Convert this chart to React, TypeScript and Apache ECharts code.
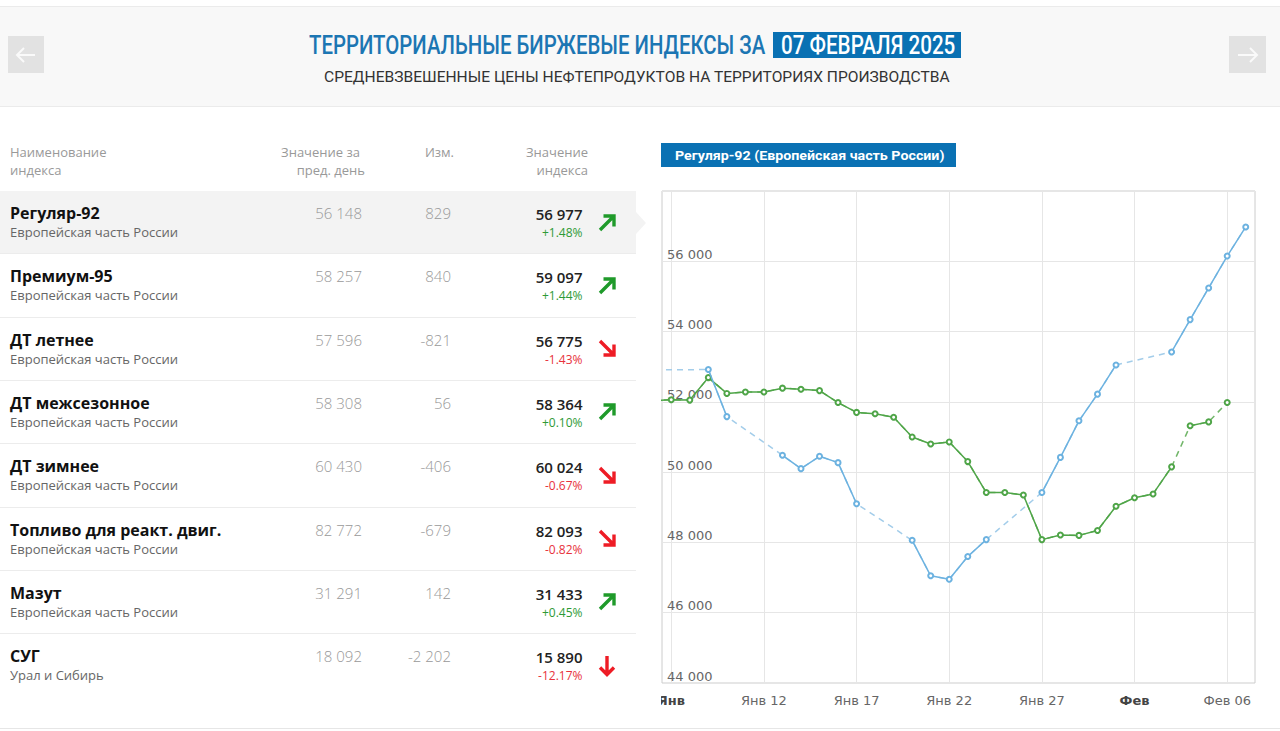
import React, { useEffect, useLayoutEffect, useRef, useState } from "react";
import * as echarts from "echarts";

// ---------- DATA ----------
const days = [
  "2025-01-06", "2025-01-07", "2025-01-08", "2025-01-09", "2025-01-10", "2025-01-11", "2025-01-12",
  "2025-01-13", "2025-01-14", "2025-01-15", "2025-01-16", "2025-01-17", "2025-01-18", "2025-01-19",
  "2025-01-20", "2025-01-21", "2025-01-22", "2025-01-23", "2025-01-24", "2025-01-25", "2025-01-26",
  "2025-01-27", "2025-01-28", "2025-01-29", "2025-01-30", "2025-01-31", "2025-02-01", "2025-02-02",
  "2025-02-03", "2025-02-04", "2025-02-05", "2025-02-06", "2025-02-07",
];

// Регуляр-92 index (blue); null = no trading day
const blueValues: (number | null)[] = [
  null, null, null, 52920, 51580, null, null,
  50480, 50100, 50450, 50270, 49100, null, null,
  48060, 47050, 46950, 47600, 48080, null, null,
  49420, 50420, 51460, 52220, 53050, null, null,
  53420, 54340, 55240, 56148, 56977,
];
// last trading day before the visible range
const bluePrevDay = "2024-12-30";
const bluePrevValue = 52880;

// comparison line (green)
const greenValues: (number | null)[] = [
  52040, 52060, 52050, 52690, 52240, 52280, 52280,
  52390, 52360, 52320, 51980, 51700, 51660, 51560,
  51000, 50800, 50860, 50300, 49420, 49420, 49350,
  48080, 48210, 48200, 48340, 49030, 49270, 49380,
  50150, 51320, 51430, 51980, null,
];
// green segments drawn dashed (from this day to the next)
const greenDashedFrom = ["2025-02-03", "2025-02-05"];

const xTickDays = ["2025-01-07", "2025-01-12", "2025-01-17", "2025-01-22", "2025-01-27", "2025-02-01", "2025-02-06"];
const xTickLabels = ["Янв", "Янв 12", "Янв 17", "Янв 22", "Янв 27", "Фев", "Фев 06"];
const xTickBold = [true, false, false, false, false, true, false];

// table
const names = ["Регуляр-92", "Премиум-95", "ДТ летнее", "ДТ межсезонное", "ДТ зимнее", "Топливо для реакт. двиг.", "Мазут", "СУГ"];
const regions = [
  "Европейская часть России", "Европейская часть России", "Европейская часть России", "Европейская часть России",
  "Европейская часть России", "Европейская часть России", "Европейская часть России", "Урал и Сибирь",
];
const prevValues = [56148, 58257, 57596, 58308, 60430, 82772, 31291, 18092];
const changes = [829, 840, -821, 56, -406, -679, 142, -2202];
const values = [56977, 59097, 56775, 58364, 60024, 82093, 31433, 15890];
const pcts = ["+1.48%", "+1.44%", "-1.43%", "+0.10%", "-0.67%", "-0.82%", "+0.45%", "-12.17%"];
const dirs = ["up", "up", "down", "up", "down", "down", "up", "drop"];

// ---------- HELPERS ----------
const W = 1280;
const DAY = 86400000;
const toT = (d: string) => Date.parse(d + "T00:00:00Z");
const fmtNum = (v: number) => {
  const s = String(Math.abs(v)).replace(/\B(?=(\d{3})+(?!\d))/g, " ");
  return (v < 0 ? "-" : "") + s;
};

const BLUE = "#6cb2e0";
const BLUE_DASH = "#a3cdea";
const GREEN = "#4fa548";
const GREEN_DASH = "#72b66a";

function Txt(props: any) {
  const { x, y, align = "left", size, color, weight = 400, family = "'Open Sans'", lh = 20, children } = props;
  const st: any = {
    position: "absolute",
    top: y - lh / 2,
    fontSize: size,
    lineHeight: lh + "px",
    color,
    fontWeight: weight,
    fontFamily: family,
    whiteSpace: "nowrap",
  };
  if (align === "right") st.right = W - x;
  else st.left = x;
  return <div style={st}>{children}</div>;
}

function Fit(props: any) {
  const { x, y, w, size, weight = 400, color, family = "Roboto", children } = props;
  const ref = useRef<HTMLDivElement>(null);
  const [k, setK] = useState(1);
  useLayoutEffect(() => {
    const m = () => {
      const el = ref.current;
      if (el && el.offsetWidth > 0) setK(w / el.offsetWidth);
    };
    m();
    (document as any).fonts?.ready?.then(m);
  }, [w]);
  return (
    <div
      ref={ref}
      style={{
        position: "absolute",
        left: x,
        top: y - size / 2,
        fontSize: size,
        lineHeight: size + "px",
        fontWeight: weight,
        color,
        fontFamily: family,
        whiteSpace: "nowrap",
        transform: `scaleX(${k})`,
        transformOrigin: "0 0",
      }}
    >
      {children}
    </div>
  );
}

function Arrow({ dir, x, y }: { dir: string; x: number; y: number }) {
  const green = "#1f9a2a";
  const red = "#ee1c25";
  if (dir === "drop") {
    return (
      <svg style={{ position: "absolute", left: x, top: y }} width={20} height={22} viewBox="0 0 20 22">
        <path d="M10 1 V19.5 M3 12.5 L10 19.5 L17 12.5" fill="none" stroke={red} strokeWidth={3.4} />
      </svg>
    );
  }
  const d = dir === "up" ? "M2 17 L16 3 M5.5 3 H16 V13.5" : "M2 2 L16 16 M16 5.5 V16 H5.5";
  return (
    <svg style={{ position: "absolute", left: x, top: y }} width={19} height={19} viewBox="0 0 19 19">
      <path d={d} fill="none" stroke={dir === "up" ? green : red} strokeWidth={3.4} />
    </svg>
  );
}

function Chart() {
  const ref = useRef<HTMLDivElement>(null);
  useEffect(() => {
    if (!ref.current) return;
    const chart = echarts.init(ref.current, undefined, { renderer: "svg" });

    const blueSolid = days.map((d, i) => [toT(d), blueValues[i] ?? "-"]);
    const blueDashed: any[] = [[toT(bluePrevDay), bluePrevValue]];
    days.forEach((d, i) => {
      if (blueValues[i] != null) blueDashed.push([toT(d), blueValues[i]]);
    });
    const greenSolid: any[] = [];
    const greenDashed: any[] = [];
    days.forEach((d, i) => {
      greenSolid.push([toT(d), greenValues[i] ?? "-"]);
      if (greenDashedFrom.includes(d)) greenSolid.push([toT(d) + DAY / 2, "-"]);
      if (greenValues[i] != null) greenDashed.push([toT(d), greenValues[i]]);
    });
    const xTicks = xTickDays.map(toT);

    chart.setOption({
      animation: false,
      backgroundColor: "#ffffff",
      grid: {
        left: 1, top: 6, right: 6, bottom: 32,
        show: true, borderColor: "#cccccc", borderWidth: 1,
        containLabel: false, outerBoundsMode: "none",
      },
      xAxis: {
        type: "value",
        min: toT(days[0]) + DAY / 2,
        max: toT(days[days.length - 1]) + DAY / 2,
        axisLine: { show: false },
        axisTick: { show: false, customValues: xTicks },
        splitLine: { show: true, lineStyle: { color: "#e6e6e6", width: 1 } },
        axisLabel: {
          customValues: xTicks,
          color: "#666666",
          fontSize: 13,
          fontFamily: "DejaVu Sans",
          lineHeight: 14,
          margin: 10,
          formatter: (v: number) => {
            const i = xTicks.indexOf(Math.round(v));
            if (i < 0) return "";
            return xTickBold[i] ? `{b|${xTickLabels[i]}}` : xTickLabels[i];
          },
          rich: { b: { fontWeight: "bold", color: "#444444", fontSize: 13, fontFamily: "DejaVu Sans", lineHeight: 14 } },
        },
      },
      yAxis: {
        type: "value",
        min: 44000,
        max: 58000,
        interval: 2000,
        axisLine: { show: false },
        axisTick: { show: false },
        splitLine: { show: true, lineStyle: { color: "#e6e6e6", width: 1 } },
        axisLabel: {
          inside: true,
          showMaxLabel: false,
          margin: 5,
          color: "#666666",
          fontSize: 13,
          fontFamily: "DejaVu Sans",
          lineHeight: 14,
          verticalAlign: "bottom",
          formatter: (v: number) => fmtNum(v),
        },
      },
      series: [
        {
          type: "line",
          data: greenDashed,
          symbol: "none",
          silent: true,
          z: 2,
          lineStyle: { color: GREEN_DASH, width: 1.5, type: [6, 5] },
        },
        {
          type: "line",
          data: blueDashed,
          symbol: "none",
          silent: true,
          z: 2,
          lineStyle: { color: BLUE_DASH, width: 1.5, type: [6, 5] },
        },
        {
          type: "line",
          data: greenSolid,
          connectNulls: false,
          symbol: "circle",
          symbolSize: 5,
          showAllSymbol: true,
          z: 3,
          itemStyle: { color: "#ffffff", borderColor: GREEN, borderWidth: 2 },
          lineStyle: { color: GREEN, width: 1.5 },
        },
        {
          type: "line",
          data: blueSolid,
          connectNulls: false,
          symbol: "circle",
          symbolSize: 5,
          showAllSymbol: true,
          z: 4,
          itemStyle: { color: "#ffffff", borderColor: BLUE, borderWidth: 2 },
          lineStyle: { color: BLUE, width: 1.5 },
        },
      ],
    });
    return () => chart.dispose();
  }, []);
  return <div ref={ref} style={{ position: "absolute", left: 661, top: 185, width: 600, height: 530 }} />;
}

export default function App() {
  useEffect(() => {
    document.body.style.margin = "0";
  }, []);
  const rowTop = (i: number) => 191 + i * 63.3;
  const grey = "#999999";
  return (
    <div style={{ position: "fixed", left: 0, top: 0, width: 1280, height: 731, background: "#fff", overflow: "hidden", fontFamily: "'Open Sans'" }}>
      {/* header band */}
      <div style={{ position: "absolute", left: 0, top: 6, width: 1280, height: 99, background: "#f8f8f8", borderTop: "1px solid #ebebeb", borderBottom: "1px solid #ebebeb" }} />
      <div style={{ position: "absolute", left: 8, top: 36, width: 36, height: 37, background: "#e2e2e2" }}>
        <svg width={36} height={37} viewBox="0 0 36 37">
          <path d="M27 19 H9 M16 12 L9 19 L16 26" fill="none" stroke="#fafafa" strokeWidth={2} />
        </svg>
      </div>
      <div style={{ position: "absolute", left: 1229, top: 36, width: 37, height: 37, background: "#e2e2e2" }}>
        <svg width={37} height={37} viewBox="0 0 37 37">
          <path d="M9 19 H28 M21 12 L28 19 L21 26" fill="none" stroke="#fafafa" strokeWidth={2} />
        </svg>
      </div>
      <Fit x={309} y={45} w={456} size={25} weight={500} color="#1c76b3">ТЕРРИТОРИАЛЬНЫЕ БИРЖЕВЫЕ ИНДЕКСЫ ЗА</Fit>
      <div style={{ position: "absolute", left: 773, top: 32, width: 188, height: 26, background: "#0a71b3" }} />
      <Fit x={781} y={45} w={174} size={25} weight={500} color="#ffffff">07 ФЕВРАЛЯ 2025</Fit>
      <Fit x={324} y={77} w={626} size={15} weight={400} color="#333333">СРЕДНЕВЗВЕШЕННЫЕ ЦЕНЫ НЕФТЕПРОДУКТОВ НА ТЕРРИТОРИЯХ ПРОИЗВОДСТВА</Fit>

      {/* table header */}
      <Txt x={10} y={152} size={13} color={grey} lh={18}>Наименование</Txt>
      <Txt x={10} y={170} size={13} color={grey} lh={18}>индекса</Txt>
      <Txt x={360} y={152} size={13} color={grey} lh={18} align="right">Значение за</Txt>
      <Txt x={365} y={170} size={13} color={grey} lh={18} align="right">пред. день</Txt>
      <Txt x={454} y={152} size={13} color={grey} lh={18} align="right">Изм.</Txt>
      <Txt x={588} y={152} size={13} color={grey} lh={18} align="right">Значение</Txt>
      <Txt x={588} y={170} size={13} color={grey} lh={18} align="right">индекса</Txt>

      {/* selected row */}
      <div style={{ position: "absolute", left: 0, top: 191, width: 636, height: 63, background: "#f3f3f3" }} />
      <svg style={{ position: "absolute", left: 636, top: 212 }} width={12} height={22} viewBox="0 0 12 22">
        <polygon points="0,0 10,11 0,22" fill="#f3f3f3" />
      </svg>

      {names.map((n, i) => {
        const t = rowTop(i);
        const pos = pcts[i].startsWith("+");
        return (
          <React.Fragment key={n}>
            {i > 0 && <div style={{ position: "absolute", left: 0, top: Math.round(t) - 1, width: 636, height: 1, background: "#ececec" }} />}
            <Txt x={10} y={t + 22} size={16} weight={700} color="#111111">{n}</Txt>
            <Txt x={10} y={t + 41} size={13} color="#666666" lh={18}>{regions[i]}</Txt>
            <Txt x={362} y={t + 22} size={15} weight={300} color={grey} align="right">{fmtNum(prevValues[i])}</Txt>
            <Txt x={451} y={t + 22} size={15} weight={300} color={grey} align="right">{fmtNum(changes[i])}</Txt>
            <Txt x={582.5} y={t + 23} size={15} weight={600} color="#222222" align="right">{fmtNum(values[i])}</Txt>
            <Txt x={582.5} y={t + 42} size={12} color={pos ? "#2e9a36" : "#e8323c"} lh={16} align="right">{pcts[i]}</Txt>
            <Arrow dir={dirs[i]} x={dirs[i] === "drop" ? 597 : 597.5} y={dirs[i] === "drop" ? t + 21 : t + 21.5} />
          </React.Fragment>
        );
      })}

      {/* chart title */}
      <div style={{ position: "absolute", left: 661, top: 143, width: 295, height: 24, background: "#0a71b3" }} />
      <Fit x={675} y={155.5} w={269} size={13.5} weight={700} color="#ffffff">Регуляр-92 (Европейская часть России)</Fit>

      <Chart />

      <div style={{ position: "absolute", left: 0, top: 728, width: 1280, height: 1, background: "#e6e6e6" }} />
    </div>
  );
}
